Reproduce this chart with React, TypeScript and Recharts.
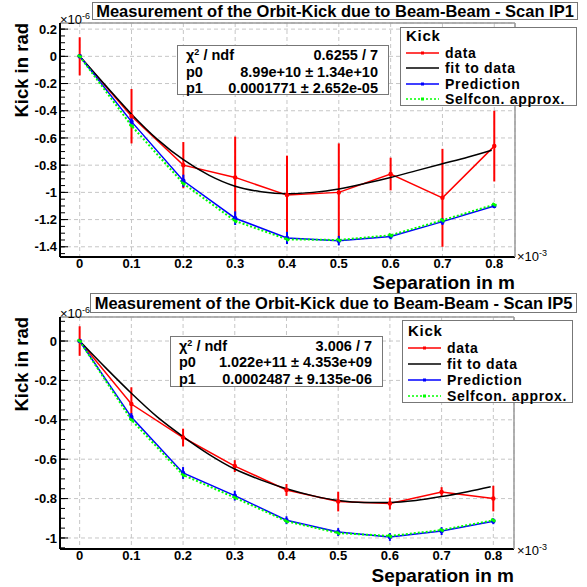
import React from 'react';
import { ComposedChart, Line, XAxis, YAxis, CartesianGrid, ErrorBar } from 'recharts';

// separation in units of 1e-3 m
const separation = [0, 0.1, 0.2, 0.3, 0.4, 0.5, 0.6, 0.7, 0.8];
const fitSeparation = [0, 0.05, 0.1, 0.15, 0.2, 0.25, 0.3, 0.35, 0.4, 0.45, 0.5, 0.55, 0.6, 0.65, 0.7, 0.75, 0.795];
const xTickValues = [0, 0.1, 0.2, 0.3, 0.4, 0.5, 0.6, 0.7, 0.8];

// kicks in units of 1e-6 rad -- Scan IP1
const ip1Kick = [0, -0.44, -0.8, -0.89, -1.02, -1.0, -0.865, -1.04, -0.66];
const ip1KickErr = [0.14, 0.2, 0.17, 0.3, 0.29, 0.36, 0.12, 0.36, 0.26];
const ip1Fit = [0, -0.215, -0.425, -0.61, -0.76, -0.875, -0.955, -0.995, -1.01, -1.0, -0.975, -0.935, -0.89, -0.84, -0.79, -0.74, -0.69];
const ip1Pred = [0, -0.48, -0.915, -1.19, -1.335, -1.355, -1.325, -1.215, -1.1];
const ip1PredErr = [0.01, 0.03, 0.045, 0.05, 0.045, 0.035, 0.02, 0.025, 0.015];
const ip1Self = [0, -0.51, -0.935, -1.21, -1.345, -1.35, -1.315, -1.205, -1.09];

// Scan IP5
const ip5Kick = [0, -0.32, -0.49, -0.635, -0.756, -0.815, -0.825, -0.767, -0.8];
const ip5KickErr = [0.075, 0.085, 0.045, 0.03, 0.03, 0.05, 0.03, 0.025, 0.065];
const ip5Fit = [0, -0.135, -0.265, -0.385, -0.485, -0.575, -0.65, -0.705, -0.75, -0.785, -0.81, -0.82, -0.82, -0.81, -0.79, -0.765, -0.74];
const ip5Pred = [0, -0.386, -0.67, -0.785, -0.91, -0.97, -0.995, -0.965, -0.915];
const ip5PredErr = [0.01, 0.02, 0.03, 0.025, 0.02, 0.02, 0.02, 0.02, 0.015];
const ip5Self = [0, -0.4, -0.68, -0.795, -0.915, -0.975, -0.99, -0.96, -0.91];

const FONT = "'Liberation Sans', Arial, Helvetica, sans-serif";
const X_DOMAIN: [number, number] = [-0.038, 0.84];

const steps = (from: number, to: number, step: number) => {
  const out: number[] = [];
  const n = Math.round((to - from) / step);
  for (let i = 0; i <= n; i++) out.push(Math.round((from + i * step) * 1000) / 1000);
  return out;
};
const xMinor = steps(-0.02, 0.84, 0.02);

const fmt = (v: number) => {
  const r = Math.round(v * 10) / 10;
  return r === 0 ? '0' : String(r);
};

const tickFont = { fill: '#000', fontSize: 13, fontWeight: 'bold', fontFamily: FONT };
const noLabel = () => <g />;

type Box = { left: number; top: number; width: number; height: number };

type PanelProps = {
  top: number;
  height: number;
  plotTop: number;
  plotBottom: number;
  plotRight: number;
  title: string;
  titleBox: Box;
  stats: string[];
  statsBox: Box;
  statsRows: number[];
  legendBox: Box;
  legendRows: number[];
  kick: number[];
  kickErr: number[];
  fit: number[];
  pred: number[];
  predErr: number[];
  self: number[];
  yDomain: [number, number];
  yTicks: number[];
  yMinor: number[];
  exp6Top: number;
  exp3Top: number;
  xTitleTop: number;
};

const legendItems = [
  { name: 'data', color: '#ff0000', dash: undefined, dot: true },
  { name: 'fit to data', color: '#000000', dash: undefined, dot: false },
  { name: 'Prediction', color: '#0000ff', dash: undefined, dot: true },
  { name: 'Selfcon. approx.', color: '#00ff00', dash: '2 2', dot: true },
];

function Panel(p: PanelProps) {
  const kickRows = separation.map((x, i) => ({ x, y: p.kick[i], err: p.kickErr[i] }));
  const fitRows = fitSeparation.map((x, i) => ({ x, y: p.fit[i] }));
  const predRows = separation.map((x, i) => ({ x, y: p.pred[i], err: p.predErr[i] }));
  const selfRows = separation.map((x, i) => ({ x, y: p.self[i] }));

  return (
    <div style={{ position: 'absolute', left: 0, top: p.top, width: 587, height: p.height }}>
      <ComposedChart
        width={587}
        height={p.height}
        margin={{ top: p.plotTop, right: 587 - p.plotRight, bottom: 0, left: 0 }}
      >
        <CartesianGrid xAxisId="main" yAxisId="main" stroke="#c6c6c6" strokeDasharray="4 3" />
        <XAxis
          xAxisId="main"
          type="number"
          dataKey="x"
          domain={X_DOMAIN}
          ticks={xTickValues}
          interval={0}
          height={p.height - p.plotBottom}
          tickLine={false}
          tickSize={0}
          tickMargin={2}
          axisLine={{ stroke: '#000', strokeWidth: 2 }}
          tick={tickFont}
          tickFormatter={fmt}
          allowDataOverflow
        />
        <XAxis xAxisId="xmajor" type="number" domain={X_DOMAIN} ticks={xTickValues} interval={0}
          mirror height={1} tick={noLabel} axisLine={false} tickSize={8} tickLine={{ stroke: '#000' }} allowDataOverflow />
        <XAxis xAxisId="xminor" type="number" domain={X_DOMAIN} ticks={xMinor} interval={0}
          mirror height={1} tick={noLabel} axisLine={false} tickSize={4} tickLine={{ stroke: '#000' }} allowDataOverflow />
        <XAxis xAxisId="frame" orientation="top" type="number" domain={X_DOMAIN} mirror height={1}
          tick={noLabel} tickLine={false} axisLine={{ stroke: '#9a9a9a', strokeWidth: 1.5 }} allowDataOverflow />
        <YAxis
          yAxisId="main"
          type="number"
          domain={p.yDomain}
          ticks={p.yTicks}
          interval={0}
          width={60}
          tickLine={false}
          tickSize={0}
          tickMargin={3}
          axisLine={{ stroke: '#000', strokeWidth: 2 }}
          tick={tickFont}
          tickFormatter={fmt}
          allowDataOverflow
        />
        <YAxis yAxisId="ymajor" type="number" domain={p.yDomain} ticks={p.yTicks} interval={0}
          mirror width={1} tick={noLabel} axisLine={false} tickSize={8} tickLine={{ stroke: '#000' }} allowDataOverflow />
        <YAxis yAxisId="yminor" type="number" domain={p.yDomain} ticks={p.yMinor} interval={0}
          mirror width={1} tick={noLabel} axisLine={false} tickSize={4} tickLine={{ stroke: '#000' }} allowDataOverflow />
        <YAxis yAxisId="frame" orientation="right" type="number" domain={p.yDomain} mirror width={1}
          tick={noLabel} tickLine={false} axisLine={{ stroke: '#9a9a9a', strokeWidth: 1.5 }} allowDataOverflow />

        <Line xAxisId="main" yAxisId="main" data={kickRows} dataKey="y" type="linear" stroke="#ff0000"
          strokeWidth={1.5} dot={{ r: 1.5, fill: '#ff0000', stroke: '#ff0000' }} isAnimationActive={false}>
          <ErrorBar dataKey="err" direction="y" width={0} stroke="#ff0000" strokeWidth={2} />
        </Line>
        <Line xAxisId="main" yAxisId="main" data={fitRows} dataKey="y" type="monotone" stroke="#000"
          strokeWidth={1.5} dot={false} isAnimationActive={false} />
        <Line xAxisId="main" yAxisId="main" data={predRows} dataKey="y" type="linear" stroke="#0000ff"
          strokeWidth={1.5} dot={{ r: 1.5, fill: '#0000ff', stroke: '#0000ff' }} isAnimationActive={false}>
          <ErrorBar dataKey="err" direction="y" width={0} stroke="#0000ff" strokeWidth={2} />
        </Line>
        <Line xAxisId="main" yAxisId="main" data={selfRows} dataKey="y" type="linear" stroke="#00ff00"
          strokeWidth={2} strokeDasharray="2 2" dot={{ r: 1.5, fill: '#00ff00', stroke: '#00ff00' }}
          isAnimationActive={false} />
      </ComposedChart>

      {/* title */}
      <div style={{
        position: 'absolute', ...p.titleBox, border: '1px solid #777', background: '#fff', boxSizing: 'border-box',
        fontFamily: FONT, fontWeight: 'bold', fontSize: 16.5, lineHeight: `${p.titleBox.height - 2}px`, textAlign: 'center',
        whiteSpace: 'nowrap',
      }}>{p.title}</div>

      {/* axis exponents */}
      <div style={{ position: 'absolute', left: 60, top: p.exp6Top, fontFamily: FONT, fontSize: 13, lineHeight: '14px' }}>
        ×10<sup style={{ fontSize: 9 }}>-6</sup>
      </div>
      <div style={{ position: 'absolute', left: 517, top: p.exp3Top, fontFamily: FONT, fontSize: 13, lineHeight: '14px' }}>
        ×10<sup style={{ fontSize: 9 }}>-3</sup>
      </div>

      {/* axis titles */}
      <div style={{
        position: 'absolute', left: 12, top: p.plotTop, transformOrigin: '0 0', transform: 'rotate(-90deg) translateX(-100%)',
        fontFamily: FONT, fontWeight: 'bold', fontSize: 18.5, lineHeight: '20px', whiteSpace: 'nowrap',
      }}>Kick in rad</div>
      <div style={{
        position: 'absolute', right: 587 - p.plotRight, top: p.xTitleTop, fontFamily: FONT, fontWeight: 'bold',
        fontSize: 19, lineHeight: '19px', whiteSpace: 'nowrap',
      }}>Separation in m</div>

      {/* fit statistics */}
      <div style={{
        position: 'absolute', ...p.statsBox, border: '1px solid #777', background: '#fff', boxSizing: 'border-box',
        fontFamily: FONT, fontWeight: 'bold', fontSize: 14.5,
      }}>
        {[0, 1, 2].map((i) => (
          <div key={i} style={{ position: 'absolute', left: 8, right: 10, top: p.statsRows[i] - 7, height: 14, lineHeight: '14px', display: 'flex', justifyContent: 'space-between', whiteSpace: 'nowrap' }}>
            <span>{i === 0 ? <>χ<span style={{ fontSize: 9, position: 'relative', top: -5 }}>2</span> / ndf</> : i === 1 ? 'p0' : 'p1'}</span>
            <span>{p.stats[i]}</span>
          </div>
        ))}
      </div>

      {/* legend */}
      <div style={{
        position: 'absolute', ...p.legendBox, border: '1px solid #777', background: '#fff', boxSizing: 'border-box',
        fontFamily: FONT, fontWeight: 'bold', fontSize: 14, letterSpacing: 0.7,
      }}>
        <div style={{ position: 'absolute', left: 5, top: p.legendRows[0] - 7, lineHeight: '14px', fontSize: 15 }}>Kick</div>
        {legendItems.map((it, i) => (
          <div key={it.name} style={{ position: 'absolute', left: 5, top: p.legendRows[i + 1] - 7, height: 14, lineHeight: '14px', display: 'flex', alignItems: 'center', whiteSpace: 'nowrap' }}>
            <svg width={33} height={10} style={{ marginRight: 6 }}>
              <line x1={0} y1={5} x2={33} y2={5} stroke={it.color} strokeWidth={1.5} strokeDasharray={it.dash} />
              {it.dot && <rect x={15} y={3.5} width={3} height={3} fill={it.color} />}
            </svg>
            <span>{it.name}</span>
          </div>
        ))}
      </div>
    </div>
  );
}

export default function App() {
  return (
    <div style={{ position: 'absolute', left: 0, top: 0, width: 587, height: 587, background: '#fff', overflow: 'hidden' }}>
      <Panel
        top={0}
        height={290}
        plotTop={23}
        plotBottom={257}
        plotRight={515}
        title="Measurement of the Orbit-Kick due to Beam-Beam - Scan IP1"
        titleBox={{ left: 92, top: 2, width: 486, height: 18 }}
        stats={['0.6255 / 7', '8.99e+10 ± 1.34e+10', '0.0001771 ± 2.652e-05']}
        statsBox={{ left: 177, top: 45, width: 212, height: 50 }}
        statsRows={[9, 25.5, 42]}
        legendBox={{ left: 400, top: 27, width: 177, height: 79 }}
        legendRows={[8, 24.5, 40, 55.5, 71]}
        kick={ip1Kick}
        kickErr={ip1KickErr}
        fit={ip1Fit}
        pred={ip1Pred}
        predErr={ip1PredErr}
        self={ip1Self}
        yDomain={[-1.475, 0.245]}
        yTicks={steps(-1.4, 0.2, 0.2)}
        yMinor={steps(-1.45, 0.2, 0.05)}
        exp6Top={9}
        exp3Top={246}
        xTitleTop={273}
      />
      <Panel
        top={290}
        height={297}
        plotTop={27}
        plotBottom={259}
        plotRight={514}
        title="Measurement of the Orbit-Kick due to Beam-Beam - Scan IP5"
        titleBox={{ left: 90, top: 3, width: 487, height: 20 }}
        stats={['3.006 / 7', '1.022e+11 ± 4.353e+09', '0.0002487 ± 9.135e-06']}
        statsBox={{ left: 170, top: 46, width: 213, height: 51 }}
        statsRows={[8.5, 25, 41.5]}
        legendBox={{ left: 402, top: 30, width: 171, height: 83 }}
        legendRows={[10, 27, 43, 59, 75]}
        kick={ip5Kick}
        kickErr={ip5KickErr}
        fit={ip5Fit}
        pred={ip5Pred}
        predErr={ip5PredErr}
        self={ip5Self}
        yDomain={[-1.056, 0.122]}
        yTicks={steps(-1, 0, 0.2)}
        yMinor={steps(-1.05, 0.1, 0.05)}
        exp6Top={13}
        exp3Top={250}
        xTitleTop={276}
      />
    </div>
  );
}
